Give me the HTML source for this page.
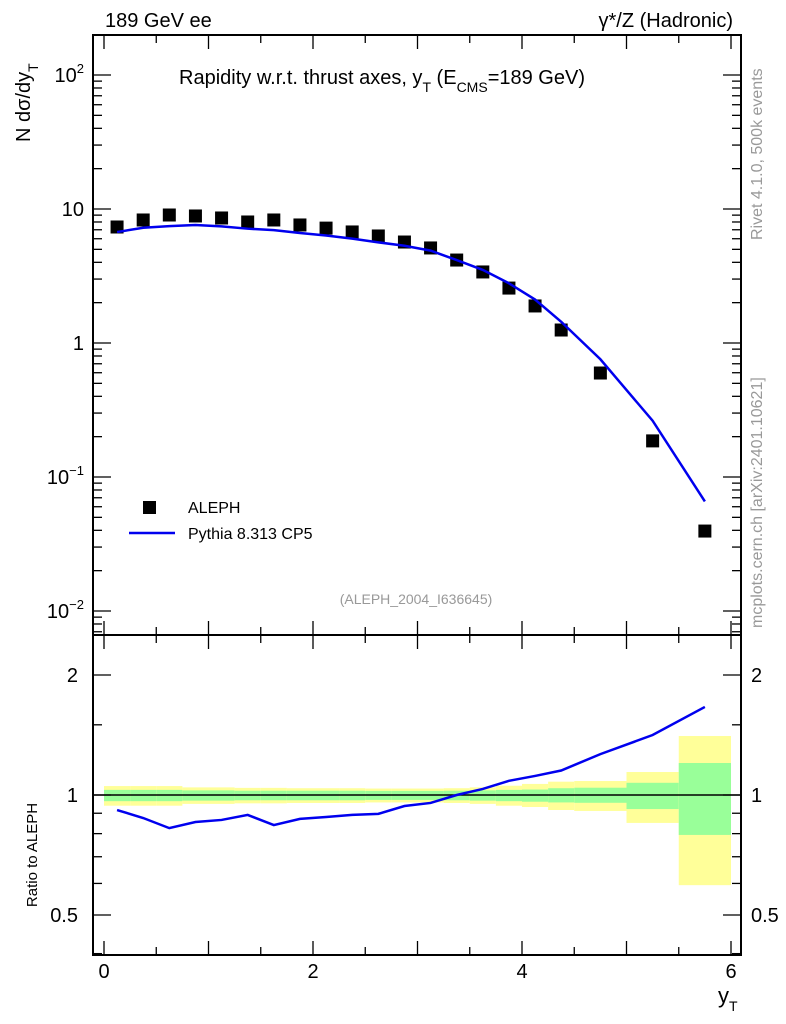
<!DOCTYPE html>
<html><head><meta charset="utf-8"><style>
body{margin:0;background:#fff}
svg{display:block;font-family:"Liberation Sans",sans-serif}
</style></head><body>
<svg id="c" width="786" height="1024" viewBox="0 0 786 1024">
<text x="105" y="27" font-size="20">189 GeV ee</text>
<text x="733" y="27" font-size="20" text-anchor="end">γ*/Z (Hadronic)</text>
<text x="179" y="84" font-size="20">Rapidity w.r.t. thrust axes, y<tspan font-size="14" dy="8">T</tspan><tspan dy="-8"> (E</tspan><tspan font-size="14" dy="8">CMS</tspan><tspan dy="-8">=189 GeV)</tspan></text>
<text transform="translate(30,142) rotate(-90)" font-size="20">N   dσ/dy<tspan font-size="14" dy="8">T</tspan></text>
<text transform="translate(762,240) rotate(-90)" font-size="16" fill="#999">Rivet 4.1.0,  500k events</text>
<text transform="translate(762,628) rotate(-90)" font-size="16" fill="#999">mcplots.cern.ch [arXiv:2401.10621]</text>
<text x="416" y="604" font-size="14" fill="#999" text-anchor="middle">(ALEPH_2004_I636645)</text>
<text transform="translate(37,855) rotate(-90)" font-size="15" text-anchor="middle">Ratio to ALEPH</text>
<text x="718" y="1003" font-size="22">y<tspan font-size="14" dy="8">T</tspan></text>
<rect x="143" y="501" width="13" height="13" fill="#000"/>
<text x="188" y="513" font-size="16">ALEPH</text>
<line x1="129" y1="533" x2="175" y2="533" stroke="#0000ee" stroke-width="2.5"/>
<text x="188" y="539" font-size="16">Pythia 8.313 CP5</text>
<g id="g"></g>
</svg>
<script>
const edges=[0,0.25,0.5,0.75,1,1.25,1.5,1.75,2,2.25,2.5,2.75,3,3.25,3.5,3.75,4,4.25,4.5,5,5.5,6];
const dataVals=[7.34,8.28,9.02,8.87,8.57,8.0,8.28,7.6,7.2,6.74,6.29,5.67,5.12,4.16,3.39,2.57,1.89,1.25,0.597,0.186,0.0395];
const mcVals=[6.73,7.25,7.45,7.59,7.42,7.13,6.96,6.62,6.34,6.01,5.64,5.32,4.89,4.16,3.51,2.79,2.11,1.44,0.756,0.263,0.0657];
const yelHi=[1.053,1.053,1.053,1.045,1.045,1.042,1.042,1.04,1.04,1.04,1.038,1.038,1.038,1.04,1.045,1.055,1.066,1.08,1.084,1.142,1.406];
const yelLo=[0.94,0.94,0.94,0.95,0.95,0.953,0.953,0.955,0.955,0.955,0.958,0.958,0.958,0.955,0.95,0.94,0.933,0.917,0.912,0.851,0.594];
const grnHi=[1.03,1.03,1.03,1.027,1.027,1.025,1.025,1.025,1.025,1.025,1.024,1.024,1.024,1.025,1.027,1.03,1.032,1.04,1.043,1.073,1.203];
const grnLo=[0.965,0.965,0.965,0.968,0.968,0.97,0.97,0.97,0.97,0.97,0.972,0.972,0.972,0.97,0.968,0.965,0.962,0.958,0.956,0.922,0.794];
const xTicks=[0,2,4,6];
const ratioTicks=[0.5,1,2];
const mainTicks=[-2,-1,0,1,2];

const NS="http://www.w3.org/2000/svg",g=document.getElementById('g');
const L=93,R=741,T=35,M=635,B=955;
const X=v=>104+v*104.5;
const Y=v=>343-Math.log10(v)*134;
const RY=v=>795-Math.log10(v)*398.6;
function el(t,a,p){const e=document.createElementNS(NS,t);for(const k in a)e.setAttribute(k,a[k]);(p||g).appendChild(e);return e;}
for(let i=0;i<dataVals.length;i++){
 const x0=X(edges[i]),x1=X(edges[i+1]);
 const r=el('rect',{x:x0,y:RY(yelHi[i]),width:x1-x0,height:RY(yelLo[i])-RY(yelHi[i]),fill:'#ffff99'});
 
 
 const q=el('rect',{x:x0,y:RY(grnHi[i]),width:x1-x0,height:RY(grnLo[i])-RY(grnHi[i]),fill:'#99ff99'});
 
 
}
const one=el('line',{x1:L,x2:R,y1:RY(1),y2:RY(1),stroke:'#000','stroke-width':1.5});


const f1=el('rect',{x:L,y:T,width:R-L,height:M-T,fill:'none',stroke:'#000','stroke-width':2});


const f2=el('rect',{x:L,y:M,width:R-L,height:B-M,fill:'none',stroke:'#000','stroke-width':2});


for(let v=0;v<=6;v+=0.5){
 const big=Number.isInteger(v),len=big?14:8,x=X(v);
 for(const [y0,d] of [[T,1],[M,-1],[M,1],[B,-1]]){
  const t=el('line',{x1:x,x2:x,y1:y0,y2:y0+d*len,stroke:'#000','stroke-width':1.3});
  
  
 }
}
xTicks.forEach(v=>{const t=el('text',{x:X(v),y:978,'font-size':20,'text-anchor':'middle'});t.textContent=v;
 
 });
for(let d=-3;d<=2;d++)for(let m=1;m<=9;m++){
 const v=m*Math.pow(10,d),y=Y(v);if(y<T||y>M)continue;
 const len=m===1?18:9;
 for(const [x0,s] of [[L,1],[R,-1]]){const t=el('line',{x1:x0,x2:x0+s*len,y1:y,y2:y,stroke:'#000','stroke-width':1.3});
 
 }
}
mainTicks.forEach(d=>{const y=Y(Math.pow(10,d))+7;const t=el('text',{x:84,y:y,'font-size':20,'text-anchor':'end'});
 if(d===0)t.textContent='1';else if(d===1)t.textContent='10';else{t.textContent='10';const s=el('tspan',{'font-size':13,dy:-9},t);s.textContent=d<0?'−'+(-d):d;}
 
 });
[0.4,0.5,0.6,0.7,0.8,0.9,1,1.5,2].forEach(v=>{const y=RY(v);const len=(v===0.5||v===1||v===2)?18:9;
 for(const [x0,s] of [[L,1],[R,-1]]){const t=el('line',{x1:x0,x2:x0+s*len,y1:y,y2:y,stroke:'#000','stroke-width':1.3});
 
 }});
ratioTicks.forEach(v=>{for(const [x,a] of [[78,'end'],[751,'start']]){const t=el('text',{x:x,y:RY(v)+7,'font-size':20,'text-anchor':a});t.textContent=v;
 
 }});
dataVals.forEach((v,i)=>{const c=X((edges[i]+edges[i+1])/2);const r=el('rect',{x:c-6.5,y:Y(v)-6.5,width:13,height:13,fill:'#000'});
 
 });
const mp=mcVals.map((v,i)=>X((edges[i]+edges[i+1])/2)+','+Y(v)).join(' ');
const ml=el('polyline',{points:mp,fill:'none',stroke:'#0000ee','stroke-width':2.5});


const rp=mcVals.map((v,i)=>X((edges[i]+edges[i+1])/2)+','+RY(v/dataVals[i])).join(' ');
const rl=el('polyline',{points:rp,fill:'none',stroke:'#0000ee','stroke-width':2.5});


</script>
</body></html>
